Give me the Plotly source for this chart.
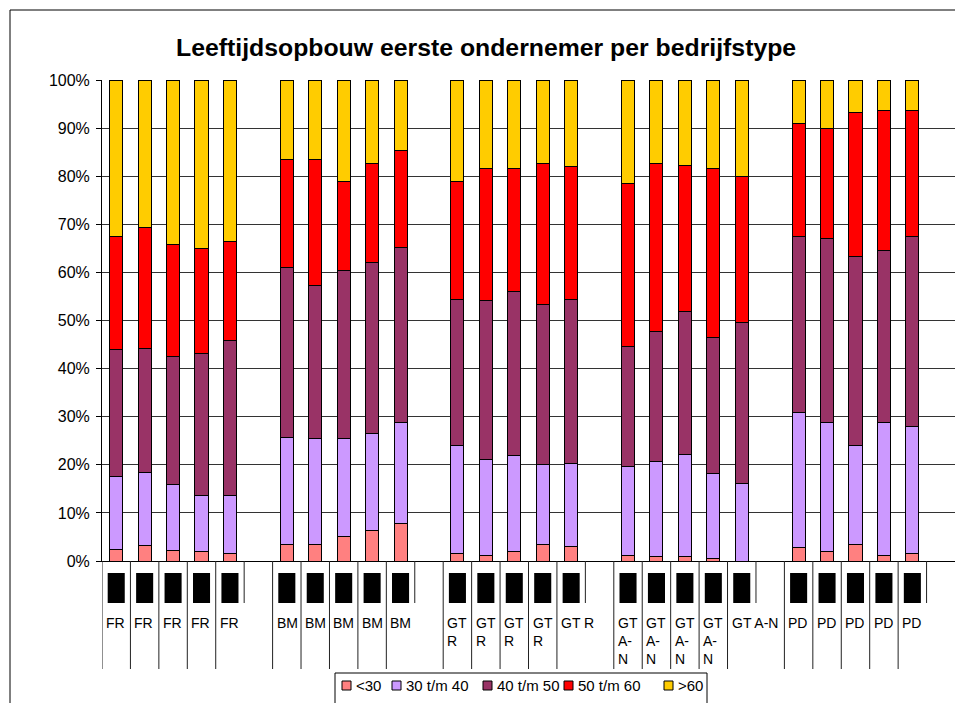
import plotly.graph_objects as go

# -----------------------
# DATA (percent per age class)
# -----------------------
groups = ["FR", "BM", "GT R", "GT A-N", "PD"]
groups_wrapped = ["FR", "BM", "GT<br>R", "GT<br>A-<br>N", "PD"]
series_names = ["<30", "30 t/m 40", "40 t/m 50", "50 t/m 60", ">60"]
colors = ["#FF8080", "#CC99FF", "#993366", "#FF0000", "#FFCC00"]

# 5 bars per group, None = empty spacer column after every group
under30 = [2.3, 3.2, 2.2, 1.9, 1.6, None,
           3.5, 3.5, 5.1, 6.3, 7.7, None,
           1.6, 1.2, 1.9, 3.5, 3.1, None,
           1.2, 0.9, 0.9, 0.6, 0.0, None,
           2.8, 1.9, 3.5, 1.2, 1.6, None]
age30_40 = [15.2, 15.2, 13.7, 11.7, 12.0, None,
            22.2, 21.9, 20.3, 20.2, 21.1, None,
            22.5, 19.8, 20.0, 16.5, 17.2, None,
            18.4, 19.7, 21.3, 17.5, 16.2, None,
            28.0, 26.9, 20.6, 27.6, 26.3, None]
age40_50 = [26.4, 25.8, 26.7, 29.6, 32.2, None,
            35.4, 31.8, 35.0, 35.5, 36.3, None,
            30.3, 33.1, 34.1, 33.4, 34.1, None,
            25.0, 27.1, 29.6, 28.3, 33.4, None,
            36.6, 38.3, 39.2, 35.7, 39.5, None]
age50_60 = [23.5, 25.1, 23.2, 21.7, 20.6, None,
            22.3, 26.2, 18.5, 20.7, 20.2, None,
            24.5, 27.4, 25.6, 29.3, 27.6, None,
            33.9, 35.0, 30.5, 35.2, 30.4, None,
            23.6, 22.9, 29.9, 29.1, 26.2, None]
over60 = [32.6, 30.7, 34.2, 35.1, 33.6, None,
          16.6, 16.6, 21.1, 17.3, 14.7, None,
          21.1, 18.5, 18.4, 17.3, 18.0, None,
          21.5, 17.3, 17.7, 18.4, 20.0, None,
          9.0, 10.0, 6.8, 6.4, 6.4, None]

values = [under30, age30_40, age40_50, age50_60, over60]
x_pos = list(range(len(under30)))

# -----------------------
# FIGURE
# -----------------------
W, H = 955, 703
L, R, T, B = 102, 0, 80, 142
pw, ph = W - L - R, H - T - B
FONT = "Liberation Sans, Arial"


def px_y(p):
    # pixel row -> paper y
    return (H - B - p) / ph


def px_x(p):
    # pixel column -> paper x
    return (p - L) / pw


fig = go.Figure()
for name, col, vals in zip(series_names, colors, values):
    fig.add_trace(go.Bar(
        x=x_pos, y=vals, name=name,
        marker=dict(color=col, line=dict(color="black", width=1)),
        showlegend=False,
    ))

shapes = []
annotations = []

# outer chart frame (left + top edge visible)
shapes.append(dict(type="rect", xref="paper", yref="paper",
                   x0=px_x(10), x1=px_x(980), y0=px_y(730), y1=px_y(10),
                   line=dict(color="black", width=1), layer="below"))

# category axis: black label boxes, dividers and group labels
n_per = 6
for g, (name, wrapped) in enumerate(zip(groups, groups_wrapped)):
    for k in range(5):
        i = g * n_per + k
        shapes.append(dict(type="rect", xref="x", yref="paper",
                           x0=i - 0.3, x1=i + 0.3,
                           y0=px_y(603), y1=px_y(573),
                           fillcolor="black", line=dict(width=0)))
        shapes.append(dict(type="line", xref="x", yref="paper",
                           x0=i - 0.5, x1=i - 0.5,
                           y0=px_y(561), y1=px_y(669),
                           line=dict(color="#222", width=1)))
        annotations.append(dict(
            x=i - 0.5, xref="x", y=px_y(613), yref="paper",
            text=wrapped if k < 4 else name,
            xanchor="left", yanchor="top", align="left", xshift=2,
            showarrow=False,
            font=dict(family=FONT, size=14, color="black")))
    # short divider before the empty column
    j = g * n_per + 5
    shapes.append(dict(type="line", xref="x", yref="paper",
                       x0=j - 0.5, x1=j - 0.5,
                       y0=px_y(561), y1=px_y(603),
                       line=dict(color="#222", width=1)))

# legend (drawn by hand to match the compact Excel layout)
shapes.append(dict(type="rect", xref="paper", yref="paper",
                   x0=px_x(335), x1=px_x(707), y0=px_y(720), y1=px_y(673),
                   line=dict(color="black", width=1), fillcolor="white"))
leg_sq = [342, 392, 483, 564, 664]
for xs, name, col in zip(leg_sq, series_names, colors):
    shapes.append(dict(type="rect", xref="paper", yref="paper",
                       x0=px_x(xs), x1=px_x(xs + 9),
                       y0=px_y(690), y1=px_y(681),
                       fillcolor=col, line=dict(color="black", width=1)))
    annotations.append(dict(
        x=px_x(xs + 12), xref="paper", y=px_y(685.5), yref="paper",
        text=name, xanchor="left", yanchor="middle", showarrow=False,
        font=dict(family=FONT, size=15, color="black")))

fig.update_layout(
    width=W, height=H,
    margin=dict(l=L, r=R, t=T, b=B),
    paper_bgcolor="white", plot_bgcolor="white",
    barmode="stack", bargap=0.54,
    font=dict(family=FONT, color="black"),
    title=dict(text="<b>Leeftijdsopbouw eerste ondernemer per bedrijfstype</b>",
               x=0.509, xref="container", xanchor="center",
               y=1 - 47 / H, yref="container", yanchor="middle",
               font=dict(size=24.8, color="black")),
    shapes=shapes, annotations=annotations,
)
fig.update_xaxes(range=[-0.5, len(x_pos) - 0.5], showticklabels=False,
                 showgrid=False, showline=True, linecolor="black",
                 linewidth=1, ticks="", zeroline=False)
fig.update_yaxes(range=[0, 100], dtick=10, ticksuffix="%",
                 showgrid=True, gridcolor="#333", gridwidth=1,
                 showline=True, linecolor="black", linewidth=1,
                 ticks="outside", ticklen=5, tickcolor="black",
                 ticklabelstandoff=3,
                 tickfont=dict(size=16), zeroline=False)

# page body has a default 8px margin; remove it so the chart sits at 0,0
fig.write_html("out.html",
               config={"displayModeBar": False},
               post_script="document.body.style.margin='0';"
                           "document.body.style.overflow='hidden';")
